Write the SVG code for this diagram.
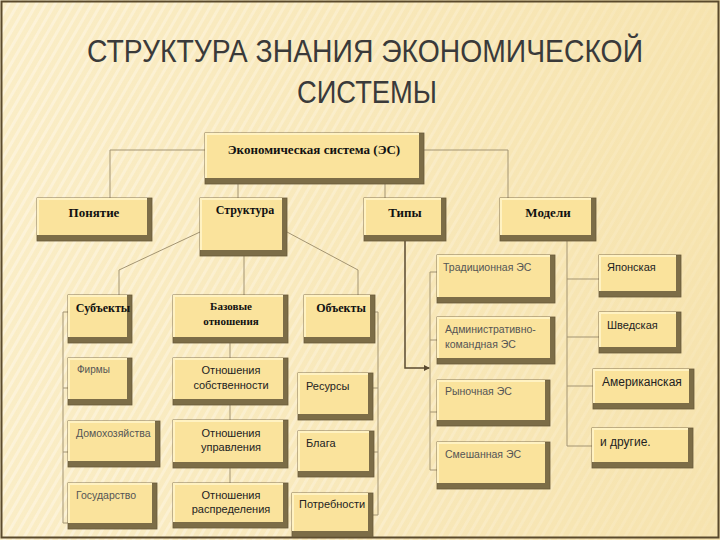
<svg xmlns="http://www.w3.org/2000/svg" width="720" height="540" viewBox="0 0 720 540">
<defs>
<style>
.edge{fill:#7c6d47;stroke:#6a5b3a;stroke-width:0.8}
.hi{fill:#fff2c2}
.face{fill:#fae39c}
.con{fill:none;stroke:#a39472;stroke-width:1}
.t{font-family:"Liberation Serif",serif;font-weight:bold;fill:#111;text-anchor:middle}
.s{font-family:"Liberation Sans",Arial,sans-serif;fill:#222}
.g{font-family:"Liberation Sans",Arial,sans-serif;fill:#555}
.ttl{font-family:"Liberation Sans",Arial,sans-serif;font-size:32px;fill:#3a3a3a;text-anchor:middle}
</style>
<linearGradient id="bg" x1="0" y1="0" x2="1" y2="0">
<stop offset="0" stop-color="#faedc6"/>
<stop offset="1" stop-color="#f6e3ae"/>
</linearGradient>
<linearGradient id="fade" x1="0" y1="0" x2="1" y2="0">
<stop offset="0" stop-color="#fff" stop-opacity="1"/>
<stop offset="0.55" stop-color="#fff" stop-opacity="0.6"/>
<stop offset="1" stop-color="#fff" stop-opacity="0.2"/>
</linearGradient>
<linearGradient id="gold" x1="0" y1="0" x2="1" y2="0">
<stop offset="0" stop-color="#e6c88a" stop-opacity="0.2"/>
<stop offset="0.3" stop-color="#d8b46a"/>
<stop offset="1" stop-color="#c99a45"/>
</linearGradient>
<pattern id="stripes" width="8" height="8" patternUnits="userSpaceOnUse" patternTransform="rotate(30)">
<rect x="0" y="0" width="3" height="8" fill="#fffaf0"/>
</pattern>
<mask id="m"><rect x="0" y="0" width="720" height="540" fill="url(#fade)"/></mask>
<marker id="arr" markerWidth="6" markerHeight="6" refX="5" refY="3" orient="auto" markerUnits="userSpaceOnUse">
<path d="M0,0 L6,3 L0,6 Z" fill="#5a4a30"/>
</marker>
</defs>

<rect x="0" y="0" width="720" height="540" fill="url(#bg)"/>
<rect x="0" y="0" width="720" height="540" fill="url(#stripes)" opacity="0.45" mask="url(#m)"/>
<rect x="1.5" y="1.5" width="717" height="536" fill="none" stroke="#5a4a2c" stroke-width="2"/>

<g id="title">
<line x1="40" y1="94" x2="718" y2="94" stroke="url(#gold)" stroke-width="1.5"/>
<text class="ttl" x="365" y="62" textLength="556" lengthAdjust="spacingAndGlyphs">СТРУКТУРА ЗНАНИЯ ЭКОНОМИЧЕСКОЙ</text>
<text class="ttl" x="367" y="103" textLength="140" lengthAdjust="spacingAndGlyphs">СИСТЕМЫ</text>
</g>

<g id="connectors">
<path class="con" d="M205,150 H110 V198"/>
<path class="con" d="M424,150 H508 V198"/>
<path class="con" d="M238,184 V198"/>
<path class="con" d="M385,184 V198"/>
<path class="con" d="M200,232 L119,270 V295"/>
<path class="con" d="M287,232 L358,270 V295"/>
<path class="con" d="M244,256 V295"/>
<path class="con" d="M230,343 V358 M230,405 V420 M230,468 V483"/>
<path class="con" d="M68,312 H63 V523 H68 M63,388 H68 M63,452 H68"/>
<path class="con" d="M375,312 H378 V515 H373 M378,388 H373 M378,452 H374"/>
<path class="con" d="M437,272 H430 V470 H437 M430,340 H437 M430,412 H437"/>
<path class="con" d="M567,241 V446 H592 M567,279 H599 M567,337 H599 M567,386 H593"/>
<path d="M405,241 V368 H429" fill="none" stroke="#5a4a30" stroke-width="1.5" marker-end="url(#arr)"/>
</g>

<g id="n-es"><rect class="edge" x="205" y="133" width="219" height="51"/><rect class="hi" x="205" y="133" width="214" height="45"/><rect class="face" x="207" y="135" width="212" height="43"/><text class="t" x="314" y="154" font-size="13">Экономическая система (ЭС)</text></g>
<g id="n-ponyatie"><rect class="edge" x="37" y="198" width="115" height="43"/><rect class="hi" x="37" y="198" width="110" height="37"/><rect class="face" x="39" y="200" width="108" height="35"/><text class="t" x="94" y="217" font-size="13">Понятие</text></g>
<g id="n-struktura"><rect class="edge" x="200" y="198" width="87" height="58"/><rect class="hi" x="200" y="198" width="82" height="52"/><rect class="face" x="202" y="200" width="80" height="50"/><text class="t" x="245" y="214" font-size="12">Структура</text></g>
<g id="n-tipy"><rect class="edge" x="364" y="198" width="82" height="43"/><rect class="hi" x="364" y="198" width="77" height="37"/><rect class="face" x="366" y="200" width="75" height="35"/><text class="t" x="405" y="217" font-size="13">Типы</text></g>
<g id="n-modeli"><rect class="edge" x="500" y="198" width="96" height="43"/><rect class="hi" x="500" y="198" width="91" height="37"/><rect class="face" x="502" y="200" width="89" height="35"/><text class="t" x="548" y="217" font-size="13">Модели</text></g>

<g id="n-subjects"><rect class="edge" x="68" y="295" width="64" height="48"/><rect class="hi" x="68" y="295" width="59" height="42"/><rect class="face" x="70" y="297" width="57" height="40"/><text class="t" x="103" y="312" font-size="12">Субъекты</text></g>
<g id="n-firms"><rect class="edge" x="68" y="358" width="64" height="47"/><rect class="hi" x="68" y="358" width="59" height="41"/><rect class="face" x="70" y="360" width="57" height="39"/><text class="g" x="77" y="373" font-size="10">Фирмы</text></g>
<g id="n-households"><rect class="edge" x="68" y="421" width="92" height="46"/><rect class="hi" x="68" y="421" width="87" height="40"/><rect class="face" x="70" y="423" width="85" height="38"/><text class="g" x="76" y="437" font-size="10.5">Домохозяйства</text></g>
<g id="n-state"><rect class="edge" x="68" y="483" width="89" height="46"/><rect class="hi" x="68" y="483" width="84" height="40"/><rect class="face" x="70" y="485" width="82" height="38"/><text class="g" x="76" y="499" font-size="10.5">Государство</text></g>

<g id="n-base"><rect class="edge" x="173" y="295" width="115" height="48"/><rect class="hi" x="173" y="295" width="110" height="42"/><rect class="face" x="175" y="297" width="108" height="40"/><text class="t" x="231" y="310" font-size="11">Базовые</text><text class="t" x="231" y="325" font-size="11">отношения</text></g>
<g id="n-own"><rect class="edge" x="173" y="358" width="115" height="47"/><rect class="hi" x="173" y="358" width="110" height="41"/><rect class="face" x="175" y="360" width="108" height="39"/><text class="s" x="231" y="374" font-size="11" text-anchor="middle">Отношения</text><text class="s" x="231" y="389" font-size="11" text-anchor="middle">собственности</text></g>
<g id="n-mgmt"><rect class="edge" x="173" y="420" width="115" height="48"/><rect class="hi" x="173" y="420" width="110" height="42"/><rect class="face" x="175" y="422" width="108" height="40"/><text class="s" x="231" y="437" font-size="11" text-anchor="middle">Отношения</text><text class="s" x="231" y="451" font-size="11" text-anchor="middle">управления</text></g>
<g id="n-distr"><rect class="edge" x="173" y="483" width="115" height="45"/><rect class="hi" x="173" y="483" width="110" height="39"/><rect class="face" x="175" y="485" width="108" height="37"/><text class="s" x="231" y="499" font-size="11" text-anchor="middle">Отношения</text><text class="s" x="231" y="513" font-size="11" text-anchor="middle">распределения</text></g>

<g id="n-objects"><rect class="edge" x="304" y="295" width="71" height="48"/><rect class="hi" x="304" y="295" width="66" height="42"/><rect class="face" x="306" y="297" width="64" height="40"/><text class="t" x="341" y="312" font-size="12">Объекты</text></g>
<g id="n-resources"><rect class="edge" x="298" y="373" width="75" height="47"/><rect class="hi" x="298" y="373" width="70" height="41"/><rect class="face" x="300" y="375" width="68" height="39"/><text class="s" x="306" y="390" font-size="11">Ресурсы</text></g>
<g id="n-goods"><rect class="edge" x="298" y="431" width="76" height="46"/><rect class="hi" x="298" y="431" width="71" height="40"/><rect class="face" x="300" y="433" width="69" height="38"/><text class="s" x="306" y="447" font-size="11">Блага</text></g>
<g id="n-needs"><rect class="edge" x="292" y="493" width="81" height="44"/><rect class="hi" x="292" y="493" width="76" height="38"/><rect class="face" x="294" y="495" width="74" height="36"/><text class="s" x="299" y="508" font-size="11">Потребности</text></g>

<g id="n-trad"><rect class="edge" x="437" y="255" width="118" height="48"/><rect class="hi" x="437" y="255" width="113" height="42"/><rect class="face" x="439" y="257" width="111" height="40"/><text class="g" x="443" y="271" font-size="10.5">Традиционная ЭС</text></g>
<g id="n-admin"><rect class="edge" x="437" y="317" width="118" height="47"/><rect class="hi" x="437" y="317" width="113" height="41"/><rect class="face" x="439" y="319" width="111" height="39"/><text class="g" x="445" y="333" font-size="10.5">Административно-</text><text class="g" x="445" y="348" font-size="10.5">командная ЭС</text></g>
<g id="n-market"><rect class="edge" x="437" y="380" width="113" height="46"/><rect class="hi" x="437" y="380" width="108" height="40"/><rect class="face" x="439" y="382" width="106" height="38"/><text class="g" x="445" y="395" font-size="10.5">Рыночная ЭС</text></g>
<g id="n-mixed"><rect class="edge" x="437" y="442" width="113" height="47"/><rect class="hi" x="437" y="442" width="108" height="41"/><rect class="face" x="439" y="444" width="106" height="39"/><text class="g" x="445" y="458" font-size="10.5">Смешанная ЭС</text></g>

<g id="n-jap"><rect class="edge" x="599" y="255" width="82" height="42"/><rect class="hi" x="599" y="255" width="77" height="36"/><rect class="face" x="601" y="257" width="75" height="34"/><text class="s" x="607" y="271" font-size="11">Японская</text></g>
<g id="n-swed"><rect class="edge" x="599" y="312" width="82" height="41"/><rect class="hi" x="599" y="312" width="77" height="35"/><rect class="face" x="601" y="314" width="75" height="33"/><text class="s" x="607" y="329" font-size="11">Шведская</text></g>
<g id="n-amer"><rect class="edge" x="593" y="369" width="101" height="40"/><rect class="hi" x="593" y="369" width="96" height="34"/><rect class="face" x="595" y="371" width="94" height="32"/><text class="s" x="602" y="386" font-size="12">Американская</text></g>
<g id="n-others"><rect class="edge" x="592" y="428" width="101" height="40"/><rect class="hi" x="592" y="428" width="96" height="34"/><rect class="face" x="594" y="430" width="94" height="32"/><text class="s" x="600" y="446" font-size="12">и другие.</text></g>
</svg>
